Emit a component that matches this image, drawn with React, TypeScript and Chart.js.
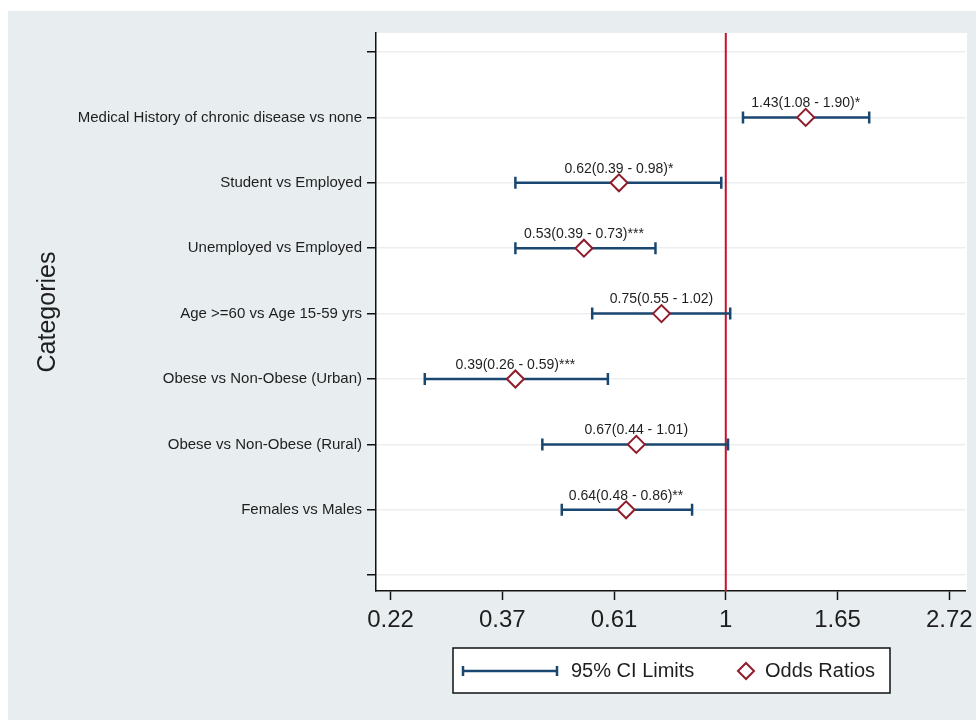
import React, { useEffect, useRef } from "react";
import { Chart, registerables } from "chart.js";

Chart.register(...registerables);

// ---- Data (top to bottom as shown) ----
const categories = [
  "Medical History of chronic disease vs none",
  "Student vs Employed",
  "Unemployed vs Employed",
  "Age >=60 vs Age 15-59 yrs",
  "Obese vs Non-Obese (Urban)",
  "Obese vs Non-Obese (Rural)",
  "Females vs Males",
];
const oddsRatios = [1.43, 0.62, 0.53, 0.75, 0.39, 0.67, 0.64];
const ciLower = [1.08, 0.39, 0.39, 0.55, 0.26, 0.44, 0.48];
const ciUpper = [1.9, 0.98, 0.73, 1.02, 0.59, 1.01, 0.86];
const significance = ["*", "*", "***", "", "***", "", "**"];

const xTickValues = [0.2231, 0.3679, 0.6065, 1, 1.6487, 2.7183];
const xTickLabels = ["0.22", "0.37", "0.61", "1", "1.65", "2.72"];
const referenceValue = 1;
const yAxisTitle = "Categories";
const ciLegendLabel = "95% CI Limits";
const orLegendLabel = "Odds Ratios";

const FONT = "'Liberation Sans', Arial, Helvetica, sans-serif";
const NAVY = "#1a476f";
const MAROON = "#8f1d2c";
const REFRED = "#c8102e";
const TEXT = "#1e1e1e";
const BG = "#e8eeef";

const W = 968;
const H = 709;

export default function App() {
  const ref = useRef<HTMLCanvasElement | null>(null);

  useEffect(() => {
    if (!ref.current) return;
    const n = categories.length;
    const pos = (i: number) => n - i;

    const ciDatasets: any[] = categories.map((_, i) => ({
      type: "scatter",
      label: ciLegendLabel,
      data: [
        { x: ciLower[i], y: pos(i) },
        { x: ciUpper[i], y: pos(i) },
      ],
      showLine: true,
      borderColor: NAVY,
      borderWidth: 2.5,
      pointStyle: "line",
      rotation: 90,
      pointRadius: 6,
      pointHoverRadius: 6,
      pointBorderColor: NAVY,
      pointBorderWidth: 2.5,
      order: 1,
    }));

    const orDataset: any = {
      type: "scatter",
      label: orLegendLabel,
      data: categories.map((_, i) => ({ x: oddsRatios[i], y: pos(i) })),
      showLine: false,
      pointStyle: "rectRot",
      pointRadius: 8.5,
      pointHoverRadius: 8.5,
      pointBackgroundColor: "#ffffff",
      pointBorderColor: MAROON,
      pointBorderWidth: 2,
      order: 0,
    };

    const yLabels: string[] = ["", ...categories.slice().reverse(), ""];

    const forestPlugin = {
      id: "forestExtras",
      beforeDatasetsDraw(chart: any) {
        const { ctx, chartArea, scales } = chart;
        const xs = scales.x;
        const ys = scales.y;
        const rx = xs.getPixelForValue(referenceValue);
        ctx.save();
        ctx.strokeStyle = REFRED;
        ctx.lineWidth = 2;
        ctx.beginPath();
        ctx.moveTo(rx, chartArea.top);
        ctx.lineTo(rx, chartArea.bottom);
        ctx.stroke();
        ctx.fillStyle = TEXT;
        ctx.font = `14px ${FONT}`;
        ctx.textAlign = "center";
        ctx.textBaseline = "middle";
        categories.forEach((_, i) => {
          const px = xs.getPixelForValue(oddsRatios[i]);
          const py = ys.getPixelForValue(pos(i));
          const txt = `${oddsRatios[i].toFixed(2)}(${ciLower[i].toFixed(2)} - ${ciUpper[i].toFixed(2)})${significance[i]}`;
          ctx.fillText(txt, px, py - 14);
        });
        ctx.restore();
      },
      afterDraw(chart: any) {
        const { ctx } = chart;
        const bx = 445, by = 637, bw = 437, bh = 45;
        const cy = by + bh / 2 + 0.5;
        ctx.save();
        ctx.fillStyle = "#ffffff";
        ctx.fillRect(bx, by, bw, bh);
        ctx.strokeStyle = "#111";
        ctx.lineWidth = 1.5;
        ctx.strokeRect(bx, by, bw, bh);
        ctx.strokeStyle = NAVY;
        ctx.lineWidth = 2.5;
        ctx.beginPath();
        ctx.moveTo(455, cy);
        ctx.lineTo(549, cy);
        ctx.moveTo(455, cy - 5);
        ctx.lineTo(455, cy + 5);
        ctx.moveTo(549, cy - 5);
        ctx.lineTo(549, cy + 5);
        ctx.stroke();
        ctx.fillStyle = TEXT;
        ctx.font = `20px ${FONT}`;
        ctx.textAlign = "left";
        ctx.textBaseline = "middle";
        ctx.fillText(ciLegendLabel, 563, cy);
        const dx = 738, r = 8;
        ctx.strokeStyle = MAROON;
        ctx.lineWidth = 2;
        ctx.fillStyle = "#fff";
        ctx.beginPath();
        ctx.moveTo(dx - r, cy);
        ctx.lineTo(dx, cy - r);
        ctx.lineTo(dx + r, cy);
        ctx.lineTo(dx, cy + r);
        ctx.closePath();
        ctx.fill();
        ctx.stroke();
        ctx.fillStyle = TEXT;
        ctx.fillText(orLegendLabel, 757, cy);
        ctx.restore();
      },
    };

    const chart = new Chart(ref.current, {
      type: "scatter",
      data: { datasets: [...ciDatasets, orDataset] },
      options: {
        animation: false,
        responsive: false,
        devicePixelRatio: 1,
        events: [],
        layout: { padding: { top: 22, right: 9, bottom: 0, left: 0 } },
        plugins: {
          legend: { display: false },
          tooltip: { enabled: false },
        },
        scales: {
          x: {
            type: "logarithmic",
            position: "bottom",
            min: 0.209,
            max: 2.9236,
            afterBuildTicks: (scale: any) => {
              scale.ticks = xTickValues.map((v) => ({ value: v }));
            },
            afterFit: (scale: any) => {
              scale.height = H - 580;
              scale.paddingLeft = 0;
              scale.paddingRight = 0;
            },
            ticks: {
              autoSkip: false,
              maxRotation: 0,
              padding: 6,
              color: TEXT,
              font: { family: FONT, size: 24 },
              callback: (_v: any, index: number) => xTickLabels[index],
            },
            grid: {
              display: true,
              drawOnChartArea: false,
              drawTicks: true,
              tickLength: 9,
              tickColor: "#111",
              tickWidth: 1.5,
            },
            border: { display: true, color: "#111", width: 1.5 },
          },
          y: {
            type: "linear",
            min: -0.2416,
            max: 8.2905,
            afterBuildTicks: (scale: any) => {
              scale.ticks = yLabels.map((_, i) => ({ value: i }));
            },
            afterFit: (scale: any) => {
              scale.width = 368;
              scale.paddingTop = 0;
              scale.paddingBottom = 0;
            },
            ticks: {
              autoSkip: false,
              padding: 5,
              color: TEXT,
              font: { family: FONT, size: 15 },
              callback: (v: any) => yLabels[Math.round(Number(v))] ?? "",
            },
            grid: {
              display: true,
              drawOnChartArea: true,
              color: "#eceff1",
              lineWidth: 1.5,
              drawTicks: true,
              tickLength: 9,
              tickColor: "#111",
              tickWidth: 1.5,
            },
            border: { display: true, color: "#111", width: 1.5 },
            title: {
              display: true,
              text: yAxisTitle,
              color: TEXT,
              font: { family: FONT, size: 25 },
              padding: { top: 25, bottom: 0 },
            },
          },
        },
      },
      plugins: [forestPlugin],
    } as any);

    return () => chart.destroy();
  }, []);

  return (
    <div
      style={{
        position: "fixed",
        left: 8,
        top: 11,
        width: W,
        height: H,
        background: BG,
      }}
    >
      <div
        style={{
          position: "absolute",
          left: 368,
          top: 22,
          width: 591,
          height: 558,
          background: "#ffffff",
        }}
      />
      <canvas
        ref={ref}
        width={W}
        height={H}
        style={{ position: "absolute", left: 0, top: 0, width: W, height: H }}
      />
    </div>
  );
}
